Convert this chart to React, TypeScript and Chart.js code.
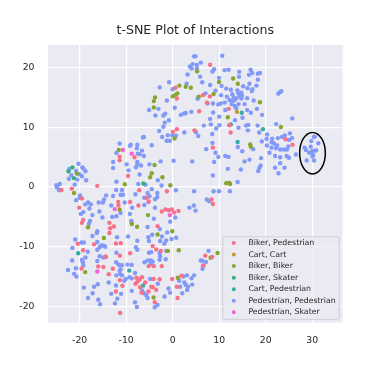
import { useEffect, useRef } from "react";
import { Chart, registerables } from "chart.js";

Chart.register(...registerables);

type P = [number, number];

const titleText = "t-SNE Plot of Interactions";
const xTickStep = 10;
const yTickStep = 10;

const bikerPedestrian: P[] = [
  [0.6,16.65],[0.9,14.85],[0.9,9.7],[0.05,9.25],[4.7,9.5],[-11.4,5.1],[-11.4,4.5],[-8.2,5.0],[-9.6,1.85],
  [8.05,20.5],[6.5,15.4],[8,15.2],[7.35,14.15],[5.7,12.7],[12.05,13.1],[12.15,10.35],[12.45,9.15],[8.65,6.6],[24.25,8],[25.75,7.1],
  [-23.9,-0.5],[-21.7,-0.26],[-16.2,0.2],[-19.5,-1.9],[-7.2,-0.55],[-5.6,-1.8],[-1.25,-0.7],[-11.7,-2.5],[-11.65,-3.1],[-20.1,-3.45],
  [-9.15,-2.5],[-7.35,-3.1],[-5.15,-2.4],[-2.35,-4.1],[-1.55,-3.75],[-0.85,-3.9],[-0.2,-3.75],[0.3,-4.25],[1.25,-4.0],
  [-19.5,-6],[-19.25,-5.5],[-13.6,-6],[-12.65,-6.6],[-13.45,-6.9],[-13.6,-7.7],[-3.25,-6.55],[-20.4,-9.5],[-16.9,-9.6],[-12.2,-9.45],[-11.15,-9.4],
  [-19.25,-10.6],[-4.3,-9.9],[-3.55,-10.45],[-2.55,-10.7],[-11.35,-11.5],[-9.15,-11.1],[-19.6,-13.65],[-16.0,-13.3],[-14.9,-13.4],[-14.4,-11.65],
  [-12.85,-13.7],[-13.75,-14.6],[-5.15,-13.25],[-4.05,-13.25],[-2.35,-13.25],[-11.35,-15.6],[-10.8,-16.55],[-12.2,-17.5],
  [-7.8,-15.2],[-6.6,-15.1],[-7.1,-15.5],[-7.55,-15.85],[-8,-16.2],[-5.9,-16.0],[-7,-16.8],[-4.6,-16.7],[-4.3,-16.8],[-3.55,-17.2],[-5.2,-17.5],[-6.7,-17.7],
  [-3.85,-19.3],[-11.3,-21.1],[-4.1,-15.4],[-2.8,-15.45],[-0.1,-15.4],[0.9,-16.7],[1.9,-14.85],[1.05,-18.6],
  [8.35,-2.1],[8.65,-2.85],[7,-11.5],[8.5,-11.7],[6.65,-13.15],
];

const cartCart: P[] = [[13.8,12.6]];

const bikerBiker: P[] = [
  [1.45,17],[2.8,16.8],[3.9,16.65],[1.0,15.7],[0.5,15.4],[0,15.2],[-3.8,15],[-4.05,14.4],[-4.05,13.35],[0.4,8.15],[-11.6,6.2],[-3.9,3.7],
  [-20.6,2.25],[-4.5,2.3],[-4.85,1.65],[-2.2,1.65],
  [9.95,17.6],[13,18.2],[14,17.3],[8.8,15.6],[5.6,15.15],[5.25,19.4],[18.75,14.2],[11.85,11.7],[23.25,10.05],[16.65,7.15],[16.8,6.75],[11.5,0.65],[12.15,0.7],[12.35,0.5],
  [-21.2,-1.0],[-10.3,0.47],[-0.5,0.3],[-11.4,-3.8],[-5.3,-4.7],[-8.8,-6.2],[-7.65,-6.65],[-18.2,-6.75],[-14.8,-8.55],[-3.25,-7.95],[-0.1,-7.4],[1.3,-10.6],[-1.05,-10.7],
  [-18.8,-14.25],[1.1,-15.2],[-4.1,-18.5],[9.65,-11.05],[8.15,-11.85],
];

const bikerSkater: P[] = [[-21.55,3.3],[-22.4,2.65],[-21.25,1.5],[-6.3,0.6]];

const cartPedestrian: P[] = [[14.85,12.45],[12.5,10.5],[19.4,9.7],[13.95,7.55],[-20.3,-11.1],[-9.35,-14],[-6.35,-16.5]];

const pedestrianPedestrian: P[] = [
  [4.6,21.9],[4.3,20.6],[3.7,20.2],[4.1,19.85],[3.2,18.85],[3.0,17.3],[0,16.4],[-0.76,17.55],[-2.8,16.7],[-1.25,14.5],[0.45,13.3],[-5.06,12.9],[-3.05,13.1],
  [-3.7,12.0],[-2.0,12.0],[-1.6,12.3],[1.75,12.1],[2.4,12.3],[2.8,12.4],[4.0,12.6],[-0.8,11.2],[-1.7,10.8],[-2.0,10.1],[-2.9,9.4],[-2.25,8.4],[-1.05,8.7],[-0.05,8.65],[0.7,8.6],
  [-1.3,7.75],[-0.6,7.75],[2.5,9.15],[-6.2,8.4],[-6.4,8.3],[-4.5,7.0],[-7.6,7.1],[-7.7,6.5],[-9.0,7.1],[-9.2,6.9],[-11.4,7.3],[-6.6,6.1],[-7.5,5.6],[-7.1,5.5],[-6.2,5.2],
  [-12.1,5.7],[-12.8,4.2],[-12.8,3.2],[-9.9,3.8],[-9.5,2.8],[-7.6,4.2],[-7.6,3.8],[-6.8,3.6],[-7.9,3.3],[-7.1,2.1],[-5.0,3.8],[-2.6,4.3],[0.2,4.4],[4.2,4.3],
  [-12.1,0.9],[-7.4,0.5],[-5.85,0.4],[-3.2,1.15],[-2.4,0.25],
  [-20.25,3.9],[-22.2,3.05],[-19.4,3.3],[-19.2,3.1],[-18.75,2.65],[-20.75,2.7],[-21.8,2.0],[-20.05,2.15],[-19.5,1.8],[-22.3,1.4],[-20.5,1.25],[-18.6,1.15],[-21.05,0.4],[-24.25,0.5],[-25,0.3],[-24.9,0],
  [-24.8,-0.1],[-24.4,-0.55],[-19.9,-1.4],[-20.0,-1.8],[-20.75,-2.2],[-18.8,-2.9],[-18.2,-2.6],[-17.6,-2.9],[-17.9,-3.6],[-19.2,-4.2],[-19.75,-4.5],[-17.25,-4.7],[-17.75,-5.7],[-18.0,-6.15],
  [-15.75,-4.1],[-15.1,-5.1],[-15.9,-2.6],[-15.0,-2.6],[-14.75,-2.1],[-14.3,-1.4],[-12.8,-1.5],[-11.2,-1.3],[-10.7,-1.3],[-12.15,-0.5],[-10.9,-0.5],[-8.0,-1.2],[-5.4,-1.0],[-6.1,-1.8],[-4.5,-0.35],
  [-3.3,-1.0],[-5,-1.55],[-3.3,-1.66],[-3.8,-2.05],[-6.1,-3.0],[-5.2,-2.5],[-10.3,-2.6],[-13.2,-3.1],[-8.7,-3.45],[-3.8,-3.45],[-11.2,-4.35],[-9.2,-4.5],[-13.0,-5.0],[-12.1,-4.9],[-4.05,-5.3],
  [-0.55,-5.8],[0.55,-5.1],[3.6,-3.45],[4.55,-3.1],[4.6,-0.7],[0.7,-0.55],[-8.9,-5.7],[-8.8,-6.0],[-5.4,-6.7],[-2.75,-7.05],[-16.2,-7.4],[-17.25,-8.2],[-16.3,-7.7],[-11.95,-8.4],[-9.6,-8.3],[-7.6,-9.0],
  [-4.4,-8.0],[-5.25,-8.4],[-5.1,-9.05],[-2.3,-8.3],[-1.2,-7.6],[-0.25,-8.7],[0.75,-8.5],[-1.4,-8.95],[-1.8,-9.5],[-2.7,-9.05],[-20.95,-8.8],[-19.6,-9.3],[-19.1,-9.3],[-16.2,-9.2],[-15.4,-9.8],[-14.9,-9.8],[-14.5,-10],
  [-15.7,-10.1],[-16.2,-10.5],[-21.55,-10.2],[-18.25,-10.85],[-12.1,-11],[-7.9,-10.1],[-7.6,-10.5],[-5.1,-11],[-4.6,-10.9],[-1.4,-10.7],[-2.8,-11.1],[-2.7,-11.6],[-1.5,-12.1],[-2.8,-12.2],
  [-15.7,-11.6],[-14.9,-11.8],[-14.4,-11.75],[-16.2,-12.4],[-18.75,-11.8],[-19.5,-12.2],[-19.3,-12.6],[-19.2,-13.15],[-21.6,-12.3],[-20.8,-13.6],[-22.5,-13.9],[-21.2,-14.55],[-20.7,-15],
  [-12.15,-12.6],[-11.65,-13.0],[-11.4,-13.1],[-10.9,-13.1],[-11.2,-13.8],[-9.7,-13],[-8.8,-13.05],[-11.4,-14],[-12.1,-14.8],[-10.9,-14.8],[-11.3,-14.55],[-8.1,-14.4],[-6.05,-12.6],[-5.35,-12.3],[-4.7,-12.3],[-4.3,-12.5],[-4.7,-12.9],
  [-10.1,-15.4],[-10.4,-15.7],[-8.8,-15.3],[-9.3,-15.1],[-13.75,-16],[-16.1,-16.3],[-16.9,-16.7],[-19.1,-16.85],[-12.2,-16.5],[-8.8,-17.4],[-6.6,-17.35],[-6.2,-17.8],[-5.7,-18.1],[-5.4,-18.6],
  [-13.2,-17.9],[-11.1,-17.9],[-11.9,-18.7],[-17.2,-17.8],[-18.2,-18.6],[-16,-18.9],[-15.6,-19.65],[-12.4,-19.5],[-8.1,-19.3],[-7.7,-20.1],[-3.25,-19.75],[-3.85,-20.15],[-1.75,-18.35],[-0.9,-17],[-0.55,-17.7],
  [-4.85,-15.4],[-3.2,-16.2],[1.4,-15.7],[2.5,-16],[1.6,-16.7],[2.8,-16.4],[3.3,-16.7],[3.1,-17.25],[2.05,-17.8],[4.2,-16.35],[2.3,-15],[3.05,-14.8],[4.6,-14.8],
  [10.65,22],[4.9,21.9],[6.05,20.85],[5.2,20.45],[5.2,19.85],[5.9,18.5],[6.35,17.55],[8.9,19.75],[8.55,19.35],[11.15,19.6],[12,19.65],[14.3,19.3],[16.75,19.65],[17.1,19.1],[16.4,18.8],[18.3,19],[18.75,19.1],
  [14.25,18.5],[9.95,18.3],[18.3,18],[16.5,17.3],[18,17],[16.1,16.55],[17.15,16.4],[17,16.1],[15.15,16.9],[10.5,16.95],[8.05,17.1],[11.5,16.5],[12.5,16.3],[13.9,16.2],[9.2,16.15],[7.05,15.7],[10.4,15.4],
  [12.8,15.55],[14.15,15.7],[14.75,15.8],[14.35,15.3],[14.9,15.3],[11.65,15.15],[13.1,15],[13.7,14.85],[14.75,14.85],[12.2,14.6],[12.7,14.4],[13.2,14.5],[16,14.9],[17.4,14.5],[22.7,15.65],[23.1,15.95],[23.35,16.05],
  [5.35,14.8],[7.5,14],[8.65,14],[9.8,13.85],[10.35,14],[11.2,14.15],[12.65,13.9],[13.35,13.6],[14.15,13.9],[15.45,13.9],[11.3,12.9],[13.65,13.2],[16,12.9],[16.8,12.45],[18.1,13.1],[19.2,12.1],[8.7,12.5],[8.05,11.4],
  [10,11.8],[13.4,11.2],[15,11.6],[25.7,11.5],[6.7,10.3],[8.2,10.5],[9.35,9.8],[10.05,10.35],[14.15,9.95],[15.75,10.3],[16.25,10.4],[16.15,9.5],[18.25,10.3],[18.6,9.15],[22.25,10.55],[20.3,8.8],[5.5,8.55],[5,9.2],[8.5,8.9],
  [8.55,7.4],[7.2,6.35],[9.2,5.75],[14,6.7],[14.95,6.0],[17.3,6.35],[19.15,7.65],[20.2,8.05],[21.4,8.1],[22.6,8.2],[23.5,8.4],[24.1,8.65],[25.2,9],[25.65,8.2],[25,7.9],[21.25,7.5],[21.8,7.3],[22.45,6.95],[20.25,6.95],
  [21.25,6.6],[22.2,6.5],[23.1,6.3],[23.9,6.3],[24.85,6.8],[24.55,6.3],[20.8,5.75],[22,5.2],[23.1,5],[24.5,5.2],[25,4.9],[26.5,5.45],[23.1,4],[22,3.25],[24.05,3.25],[22.75,2.3],[9.8,5.05],[11.3,5.2],[12,5.05],[8.9,4.2],
  [15.45,4.3],[16.5,4.6],[19,4.85],[18.9,3.6],[18.65,3.25],[18.4,2.7],[11.85,3.05],[14.65,2.95],[8.65,1.95],[13.95,0.85],
  [30.55,8.45],[30.35,8.4],[29.8,7.7],[31.3,7.35],[29.7,6.75],[28.35,6.6],[28.65,6.2],[29.35,5.75],[29.8,5.8],[30.2,5.35],[30,6],[30.55,6.1],[30.85,6.15],[30.05,5.1],[28.8,4.45],[30.4,4.45],
  [8.8,-0.7],[9.95,-0.7],[12.3,-0.7],[7.35,-2.1],[7.85,-2.4],[4.9,-3.95],[7.7,-10.7],[7.15,-12.55],[6.05,-12.3],[6.35,-12.35],[6.5,-13.2],[6.4,-13.7],[4.05,-15.3],
];

const pedestrianSkater: P[] = [[-10.7,6.2],[-8.8,5.6],[-12.45,-3.7],[-16.2,-14.15],[-0.6,-4.7]];

const seriesNames = ["Biker, Pedestrian","Cart, Cart","Biker, Biker","Biker, Skater","Cart, Pedestrian","Pedestrian, Pedestrian","Pedestrian, Skater"];
const seriesValues = [bikerPedestrian,cartCart,bikerBiker,bikerSkater,cartPedestrian,pedestrianPedestrian,pedestrianSkater];
const seriesColors = ["#f77189","#c99a32","#86a630","#33b07a","#36ada4","#8299f7","#f561dd"];

const FONT = '"DejaVu Sans", sans-serif';
const INK = "#262626";

const overlay = {
  id: "overlay",
  afterDatasetsDraw(chart: any) {
    const { ctx, scales } = chart;
    const cx = scales.x.getPixelForValue(30.05);
    const cy = scales.y.getPixelForValue(5.68);
    const rx = Math.abs(scales.x.getPixelForValue(32.81) - cx);
    const ry = Math.abs(scales.y.getPixelForValue(9.16) - cy);
    ctx.save();
    ctx.strokeStyle = "#000";
    ctx.lineWidth = 1.5;
    ctx.beginPath();
    ctx.ellipse(cx, cy, rx, ry, 0, 0, Math.PI * 2);
    ctx.stroke();

    const bx = 222.8, by = 236.8, bw = 116.6, bh = 82.6;
    ctx.fillStyle = "rgba(234,234,242,0.8)";
    ctx.strokeStyle = "rgba(204,204,204,0.8)";
    ctx.lineWidth = 1;
    ctx.beginPath();
    ctx.roundRect(bx, by, bw, bh, 2);
    ctx.fill();
    ctx.stroke();
    ctx.font = `7.8px ${FONT}`;
    ctx.textBaseline = "middle";
    ctx.textAlign = "left";
    seriesNames.forEach((name, i) => {
      const y = by + 6.2 + i * 11.55;
      ctx.fillStyle = seriesColors[i];
      ctx.beginPath();
      ctx.arc(bx + 11, y, 2, 0, Math.PI * 2);
      ctx.fill();
      ctx.fillStyle = INK;
      ctx.fillText(name, bx + 25.6, y);
    });
    ctx.restore();
  },
};

const plotBackground = {
  id: "plotBackground",
  beforeDraw(chart: any) {
    const { ctx, chartArea: a } = chart;
    ctx.save();
    ctx.fillStyle = "#eaeaf2";
    ctx.fillRect(a.left, a.top, a.right - a.left, a.bottom - a.top);
    ctx.restore();
  },
};

export default function App() {
  const ref = useRef<HTMLCanvasElement>(null);
  useEffect(() => {
    const chart = new Chart(ref.current!, {
      type: "scatter",
      data: {
        datasets: seriesNames.map((name, i) => ({
          label: name,
          data: seriesValues[i].map(([x, y]) => ({ x, y })),
          backgroundColor: seriesColors[i],
          borderWidth: 0,
          pointRadius: 2.2,
          order: i === 5 ? 1 : 0,
        })),
      },
      plugins: [plotBackground, overlay],
      options: {
        responsive: false,
        animation: false,
        layout: { padding: { left: 0, right: 39.5, top: 0, bottom: 0 } },
        plugins: {
          legend: { display: false },
          tooltip: { enabled: false },
          title: {
            display: true,
            text: titleText,
            fullSize: false,
            color: INK,
            font: { family: FONT, size: 12.6, weight: "normal" },
            padding: { top: 23.4, bottom: 6.5 },
          },
        },
        scales: {
          x: {
            type: "linear",
            min: -26.8,
            max: 36.5,
            afterFit: (s: any) => { s.height = 47.5; },
            grid: { color: "#ffffff", lineWidth: 1.2, drawTicks: false },
            border: { display: false },
            ticks: { stepSize: xTickStep, includeBounds: false, color: INK, padding: 13, maxRotation: 0, font: { family: FONT, size: 9.3 } },
          },
          y: {
            type: "linear",
            min: -22.7,
            max: 23.8,
            afterFit: (s: any) => { s.width = 48; },
            grid: { color: "#ffffff", lineWidth: 1.2, drawTicks: false },
            border: { display: false },
            ticks: { stepSize: yTickStep, includeBounds: false, color: INK, padding: 13.5, font: { family: FONT, size: 9.3 } },
          },
        },
      },
    } as any);
    return () => chart.destroy();
  }, []);
  return (
    <canvas
      ref={ref}
      width={382}
      height={370}
      style={{ position: "fixed", left: 0, top: 0, width: 382, height: 370, display: "block" }}
    />
  );
}
